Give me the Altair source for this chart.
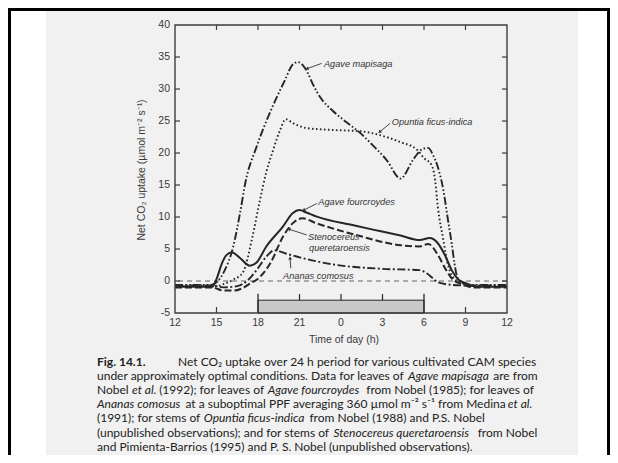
import math
import altair as alt
import pandas as pd

# ---------------- data ----------------
mapisaga_h = [12, 14.6, 15.0, 15.6, 16.2, 16.7, 17.1, 17.9, 18.9, 19.95, 20.5, 20.9, 21.25, 21.6, 22.0, 22.5,
              23.4, 24.4, 25.4, 26.3, 27.3, 28.3, 29.2, 29.8, 30.3, 30.65, 31.0, 31.4, 31.7, 32.0, 32.2, 32.4,
              32.8, 33.5, 36]
mapisaga_v = [-0.6, -0.6, -0.2, 1.7, 5.3, 10.6, 15.5, 21.0, 26.5, 31.4, 33.8, 34.2, 33.7, 32.5, 30.6, 28.7,
              26.6, 24.8, 23.1, 21.2, 18.9, 16.0, 18.9, 20.5, 20.8, 19.7, 17.8, 14.2, 10.0, 5.9, 2.8, 0.6,
              -0.3, -0.6, -0.6]

opuntia_h = [12, 15.0, 15.5, 16.2, 16.9, 17.6, 18.1, 18.6, 19.1, 19.6, 20.0, 20.5, 21.5, 23.4, 25.4, 26.8,
             28.3, 29.5, 30.0, 30.55, 30.8, 31.0, 31.4, 31.7, 32.1, 32.7, 33.5, 36]
opuntia_v = [-0.8, -0.8, -0.5, 0.2, 1.3, 6.9, 12.2, 17.0, 20.5, 23.6, 25.3, 24.7, 23.9, 23.6, 23.4, 22.8,
             21.7, 20.5, 19.2, 18.1, 15.8, 11.6, 6.4, 2.8, 0.6, -0.3, -0.8, -0.8]

fourcroydes_h = [12, 14.7, 15.0, 15.4, 15.7, 16.1, 16.7, 17.4, 17.9, 18.6, 19.8, 20.5, 21.0, 21.5, 22.25,
                 24.9, 26.8, 28.3, 29.7, 30.4, 31.0, 31.5, 32.0, 32.5, 33.1, 33.8, 36]
fourcroydes_v = [-0.9, -0.9, 0.3, 2.8, 4.0, 4.5, 3.6, 2.4, 2.9, 5.4, 8.5, 10.6, 11.1, 10.7, 10.05,
                 8.7, 7.8, 7.1, 6.4, 6.7, 5.9, 4.1, 1.7, 0.2, -0.4, -0.9, -0.9]

stenocereus_h = [12, 14.7, 15.5, 16.3, 16.9, 17.5, 17.9, 18.9, 19.8, 20.5, 21.2, 22.25, 24.9, 28.3, 29.7,
                 30.3, 31.0, 31.6, 32.1, 32.8, 33.5, 36]
stenocereus_v = [-1.0, -1.0, -1.5, -1.5, -1.1, -0.3, 0.2, 2.8, 6.9, 9.0, 9.8, 9.0, 7.3, 5.6, 5.4,
                 5.8, 4.1, 1.7, 0.2, -0.5, -1.0, -1.0]

ananas_h = [12, 14.7, 15.5, 16.5, 17.3, 18.0, 18.6, 19.2, 20.0, 21.0, 23.4, 27.0, 29.7, 30.2, 30.6, 31.0,
            32.0, 33.0, 36]
ananas_v = [-0.7, -0.7, -1.0, -0.8, 0.2, 2.0, 3.8, 4.8, 4.3, 3.7, 2.6, 1.9, 1.7, 1.2, 0.5, -0.2,
            -0.6, -0.7, -0.7]

x_tick_values = [15, 18, 21, 24, 27, 30, 33]
x_label_values = [12, 15, 18, 21, 24, 27, 30, 33, 36]
x_label_texts = ["12", "15", "18", "21", "0", "3", "6", "9", "12"]
y_tick_values = [0, 5, 10, 15, 20, 25, 30, 35]
y_label_values = [-5, 0, 5, 10, 15, 20, 25, 30, 35, 40]
dark_period = [18, 30]
dark_marks = [21, 24, 27]

label_texts = ["Agave mapisaga", "Opuntia ficus-indica", "Agave fourcroydes", "Stenocereus",
               "queretaroensis", "Ananas comosus"]
label_h = [22.77, 27.67, 22.36, 21.62, 21.69, 19.81]
label_v = [33.86, 24.8, 12.3, 6.8, 5.15, 0.78]
leader_h = [22.6, 27.55, 22.25, 21.52, 20.37]
leader_v = [34.0, 24.64, 12.1, 7.19, 1.98]
leader_h2 = [21.57, 26.82, 21.33, 20.26, 20.32]
leader_v2 = [33.2, 23.33, 11.1, 8.08, 3.5]

caption = [
    [("Fig. 14.1.", "bold"), ("Net CO\u2082 uptake over 24 h period for various cultivated CAM species", "normal")],
    [("under approximately optimal conditions. Data for leaves of", "normal"), ("Agave mapisaga", "italic"),
     ("are from", "normal")],
    [("Nobel", "normal"), ("et al.", "italic"), ("(1992); for leaves of", "normal"),
     ("Agave fourcroydes", "italic"), ("from Nobel (1985); for leaves of", "normal")],
    [("Ananas comosus", "italic"),
     ("at a suboptimal PPF averaging 360 \u00b5mol m\u207b\u00b2 s\u207b\u00b9 from Medina", "normal"),
     ("et al.", "italic")],
    [("(1991); for stems of", "normal"), ("Opuntia ficus-indica", "italic"),
     ("from Nobel (1988) and P.S. Nobel", "normal")],
    [("(unpublished observations); and for stems of", "normal"), ("Stenocereus queretaroensis", "italic"),
     ("from Nobel", "normal")],
    [("and Pimienta-Barrios (1995) and P. S. Nobel (unpublished observations).", "normal")],
]

# ---------------- layout ----------------
W, H = 332, 288
OX, OY = 175, 25          # page position of plot origin
INK = "#262626"
FRAME = "#3c3c3c"
PAGE = "#f1f1f1"
FONT = "Liberation Sans"
CAPFONT = "Lato"
CAP_SIZE = 12
CAP_X0 = 97
CAP_Y0, CAP_DY = 362, 14.1
FIRST_GAP_X = 178

# approximate Lato advance widths (1/1000 em) for laying caption segments end to end
LATO = {" ": 193, "a": 486, "b": 548, "c": 445, "d": 548, "e": 503, "f": 312, "g": 494, "h": 548,
        "i": 234, "j": 234, "k": 497, "l": 234, "m": 820, "n": 548, "o": 545, "p": 548, "q": 548,
        "r": 355, "s": 412, "t": 338, "u": 548, "v": 493, "w": 750, "x": 479, "y": 493, "z": 437,
        "A": 665, "B": 620, "C": 660, "D": 740, "E": 540, "F": 520, "G": 720, "H": 750, "I": 270,
        "M": 900, "N": 760, "O": 790, "P": 590, "R": 620, "S": 520, "T": 580, ".": 210, ",": 210,
        ";": 230, "(": 300, ")": 300, "-": 360, "\u00b5": 548, "\u207b": 300, "\u00b2": 340,
        "\u00b9": 340, "\u2082": 340}


def text_width(s, size, style="normal"):
    w = sum(LATO.get(c, 580) for c in s) * size / 1000.0 * 1.05
    if style == "bold":
        w *= 1.06
    if style == "italic":
        w *= 0.955
    return w


XS = alt.Scale(domain=[12, 36], nice=False, zero=False)
YS = alt.Scale(domain=[-5, 40], nice=False, zero=False)
PX_PER_H = W / 24.0
PX_PER_V = H / 45.0
one = pd.DataFrame({"a": [0]})


def X(f):
    return alt.X(f, scale=XS, axis=None)


def Y(f):
    return alt.Y(f, scale=YS, axis=None)


layers = []

# scanned page background
layers.append(alt.Chart(one).mark_rect(color=PAGE).encode(
    x=alt.value(46 - OX), x2=alt.value(578 - OX), y=alt.value(0 - OY), y2=alt.value(470 - OY)))

# zero dashed line
layers.append(alt.Chart(pd.DataFrame({"v": [0]})).mark_rule(
    color="#555555", strokeWidth=0.9, strokeDash=[5, 4]).encode(y=Y("v:Q")))


# series
def series(h, v, width, dash=None):
    kw = dict(interpolate="monotone", color=INK, strokeWidth=width)
    if dash is not None:
        kw["strokeDash"] = dash
    return alt.Chart(pd.DataFrame({"h": h, "v": v})).mark_line(**kw).encode(x=X("h:Q"), y=Y("v:Q"))


layers.append(series(opuntia_h, opuntia_v, 1.9, [1.6, 2.4]))
layers.append(series(mapisaga_h, mapisaga_v, 1.9, [8, 2.2, 1.6, 2.2, 1.6, 2.2]))
layers.append(series(ananas_h, ananas_v, 1.9, [8, 2.5, 2, 2.5]))
layers.append(series(stenocereus_h, stenocereus_v, 2.0, [7, 3]))
layers.append(series(fourcroydes_h, fourcroydes_v, 2.0))

# dark period bar
layers.append(alt.Chart(pd.DataFrame({"a": [dark_period[0]], "b": [dark_period[1]], "lo": [-5], "hi": [-3]}))
              .mark_rect(fill="#c8c8c8", stroke=INK, strokeWidth=1).encode(
    x=X("a:Q"), x2="b:Q", y=Y("lo:Q"), y2="hi:Q"))
layers.append(alt.Chart(pd.DataFrame({"h": dark_period, "lo": [-5, -5], "hi": [-2, -2]})).mark_rule(
    color=INK, strokeWidth=1.3).encode(x=X("h:Q"), y=Y("lo:Q"), y2="hi:Q"))
layers.append(alt.Chart(pd.DataFrame({"h": dark_marks, "lo": [-3] * 3, "hi": [-2.05] * 3})).mark_rule(
    color=INK, strokeWidth=1.2).encode(x=X("h:Q"), y=Y("lo:Q"), y2="hi:Q"))

# inward ticks
xt = pd.DataFrame({"h": x_tick_values})
yt = pd.DataFrame({"v": y_tick_values})
layers.append(alt.Chart(xt).mark_rule(color=FRAME, strokeWidth=1.2).encode(
    x=X("h:Q"), y=alt.value(0), y2=alt.value(5)))
layers.append(alt.Chart(pd.DataFrame({"h": [15, 33]})).mark_rule(color=FRAME, strokeWidth=1.2).encode(
    x=X("h:Q"), y=alt.value(H), y2=alt.value(H - 6)))
layers.append(alt.Chart(yt).mark_rule(color=FRAME, strokeWidth=1.2).encode(
    y=Y("v:Q"), x=alt.value(0), x2=alt.value(5)))
layers.append(alt.Chart(yt).mark_rule(color=FRAME, strokeWidth=1.2).encode(
    y=Y("v:Q"), x=alt.value(W), x2=alt.value(W - 5)))

# frame
layers.append(alt.Chart(pd.DataFrame({"a": [12], "b": [36], "lo": [-5], "hi": [40]})).mark_rect(
    fillOpacity=0, stroke=FRAME, strokeWidth=1.4).encode(x=X("a:Q"), x2="b:Q", y=Y("lo:Q"), y2="hi:Q"))

# tick labels (through the scales)
layers.append(alt.Chart(pd.DataFrame({"h": x_label_values, "t": x_label_texts})).mark_text(
    align="center", baseline="middle", font=FONT, fontSize=10.5, color="#3a3a3a").encode(
    x=X("h:Q"), y=alt.value(H + 10), text="t:N"))
layers.append(alt.Chart(pd.DataFrame({"v": y_label_values, "t": [str(v) for v in y_label_values]})).mark_text(
    align="right", baseline="middle", font=FONT, fontSize=10.5, color="#3a3a3a").encode(
    y=Y("v:Q"), x=alt.value(-5), text="t:N"))

# annotations
layers.append(alt.Chart(pd.DataFrame({"h": label_h, "v": label_v, "t": label_texts})).mark_text(
    align="left", baseline="middle", font=FONT, fontStyle="italic", fontSize=9.2, color="#333333").encode(
    x=X("h:Q"), y=Y("v:Q"), text="t:N"))
layers.append(alt.Chart(pd.DataFrame({"h": leader_h, "v": leader_v, "h2": leader_h2, "v2": leader_v2}))
              .mark_rule(color="#333333", strokeWidth=0.9).encode(x=X("h:Q"), x2="h2:Q", y=Y("v:Q"), y2="v2:Q"))
arrow_angle = []
for a, b, c, d in zip(leader_h, leader_v, leader_h2, leader_v2):
    dx = (c - a) * PX_PER_H
    dy = -(d - b) * PX_PER_V
    arrow_angle.append(math.degrees(math.atan2(dx, -dy)) % 360)
layers.append(alt.Chart(pd.DataFrame({"h": leader_h2, "v": leader_v2, "ang": arrow_angle})).mark_point(
    shape="triangle", filled=True, size=14, color="#333333", opacity=1).encode(
    x=X("h:Q"), y=Y("v:Q"), angle=alt.Angle("ang:Q", scale=None)))

# axis titles
layers.append(alt.Chart(one).mark_text(angle=270, align="center", baseline="middle", font=FONT,
                                       fontSize=10.5, color="#3a3a3a").encode(
    x=alt.value(141.5 - OX), y=alt.value(170 - OY),
    text=alt.value("Net CO\u2082 uptake (\u00b5mol m\u207b\u00b2 s\u207b\u00b9)")))
layers.append(alt.Chart(one).mark_text(align="center", baseline="middle", font=FONT,
                                       fontSize=10.5, color="#3a3a3a").encode(
    x=alt.value(344 - OX), y=alt.value(340 - OY), text=alt.value("Time of day (h)")))

# caption, segments laid end to end
space = text_width(" ", CAP_SIZE)
for i, line in enumerate(caption):
    yy = CAP_Y0 + i * CAP_DY
    xx = CAP_X0
    for j, (text, style) in enumerate(line):
        if i == 0 and j == 1:
            xx = FIRST_GAP_X
        kw = dict(align="left", baseline="middle", font=CAPFONT, fontSize=CAP_SIZE, color="#222222")
        if style == "bold":
            kw["fontWeight"] = "bold"
        if style == "italic":
            kw["fontStyle"] = "italic"
        layers.append(alt.Chart(one).mark_text(**kw).encode(
            x=alt.value(xx - OX), y=alt.value(yy - OY), text=alt.value(text)))
        xx += text_width(text, CAP_SIZE, style) + space + (1 if style == "italic" else 0)

# outer black border (drawn at the svg edges)
layers.append(alt.Chart(one).mark_rule(color="black", strokeWidth=3).encode(
    x=alt.value(8 - OX), x2=alt.value(612 - OX), y=alt.value(9.5 - OY)))
layers.append(alt.Chart(one).mark_rule(color="black", strokeWidth=3).encode(
    x=alt.value(9.5 - OX), y=alt.value(8 - OY), y2=alt.value(470 - OY)))
layers.append(alt.Chart(one).mark_rule(color="black", strokeWidth=3).encode(
    x=alt.value(608.5 - OX), y=alt.value(8 - OY), y2=alt.value(470 - OY)))

chart = alt.layer(*layers).properties(
    width=W, height=H,
    autosize=alt.AutoSizeParams(type="none"),
    padding={"left": OX - 8, "top": OY - 8, "right": 610 - (OX + W), "bottom": 455 - (OY + H)},
    background="white",
).configure_view(strokeWidth=0)

chart.save("out.html", embed_options={"renderer": "svg", "actions": False})
